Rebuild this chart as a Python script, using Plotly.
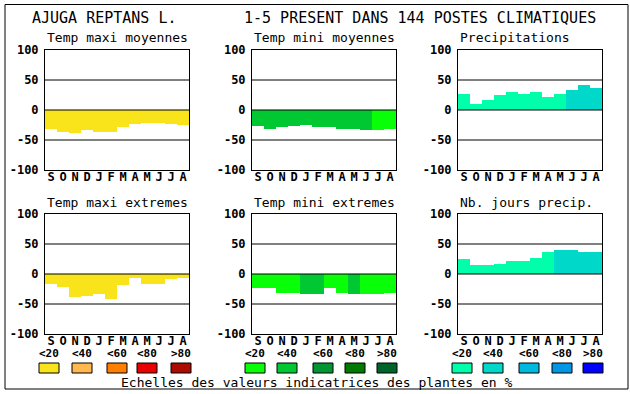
import plotly.graph_objects as go

W, H = 630, 394

months = ["S", "O", "N", "D", "J", "F", "M", "A", "M", "J", "J", "A"]

panel_titles = ["Temp maxi moyennes", "Temp mini moyennes", "Precipitations",
                "Temp maxi extremes", "Temp mini extremes", "Nb. jours precip."]

tmax_moy = [-31, -36, -38, -33, -36, -36, -28, -23, -22, -22, -23, -25]
tmin_moy = [-26, -31, -28, -26, -25, -28, -28, -31, -31, -34, -33, -31]
precip = [27, 10, 16, 25, 30, 27, 30, 22, 27, 33, 42, 37]
tmax_ext = [-16, -21, -38, -36, -34, -41, -18, -6, -16, -16, -8, -6]
tmin_ext = [-24, -24, -31, -31, -33, -33, -24, -31, -33, -33, -34, -31]
nb_jours = [25, 15, 15, 17, 21, 22, 27, 36, 40, 40, 36, 37]

# class index (0: <20, 1: <40, 2: <60, 3: <80, 4: >80)
cls_tmax_moy = [0] * 12
cls_tmin_moy = [1] * 10 + [0, 0]
cls_precip = [0] * 9 + [1] * 3
cls_tmax_ext = [0] * 12
cls_tmin_ext = [0, 0, 0, 0, 1, 1, 0, 0, 1, 0, 0, 0]
cls_nb_jours = [0] * 8 + [1] * 4

class_labels = ["<20", "<40", "<60", "<80", ">80"]
legend_title = "Echelles des valeurs indicatrices des plantes en %"
main_left = "AJUGA REPTANS L."
main_right = "1-5 PRESENT DANS 144 POSTES CLIMATIQUES"

yticks = [-100, -50, 0, 50, 100]

pal_temp_max = ["#f9e31b", "#ffb94e", "#ff7f00", "#e80000", "#ac0c00"]
pal_temp_min = ["#08ff08", "#00c832", "#009632", "#007a00", "#00642a"]
pal_prec = ["#00ffaa", "#00d9c9", "#00b9df", "#0096e6", "#0000ff"]

series = [tmax_moy, tmin_moy, precip, tmax_ext, tmin_ext, nb_jours]
classes = [cls_tmax_moy, cls_tmin_moy, cls_precip, cls_tmax_ext, cls_tmin_ext, cls_nb_jours]
palettes = [pal_temp_max, pal_temp_min, pal_prec, pal_temp_max, pal_temp_min, pal_prec]

MONO = "DejaVu Sans Mono"

# panel pixel geometry
col_x = [(45, 189), (252, 396), (458, 602)]
row_y = [(50, 170), (214, 334)]

fig = go.Figure()
layout = dict(width=W, height=H, margin=dict(l=0, r=0, t=0, b=0, pad=0, autoexpand=False),
              paper_bgcolor="white", plot_bgcolor="white", showlegend=False,
              bargap=0)
shapes = []
annotations = []

for i in range(6):
    r, c = divmod(i, 3)
    n = i + 1
    xa = "x" if n == 1 else f"x{n}"
    ya = "y" if n == 1 else f"y{n}"
    x0, x1 = col_x[c]
    y0, y1 = row_y[r]
    fig.add_trace(go.Bar(
        x=list(range(12)), y=series[i], width=1,
        marker=dict(color=[palettes[i][k] for k in classes[i]], line=dict(width=0)),
        xaxis=xa, yaxis=ya, hoverinfo="skip"))
    layout[f"xaxis{'' if n == 1 else n}"] = dict(
        domain=[x0 / W, x1 / W], anchor=ya, range=[-0.5, 11.5], automargin=False,
        tickmode="array", tickvals=list(range(12)), ticktext=months,
        tickfont=dict(family=MONO, size=12, color="black", weight="bold"),
        ticklabelstandoff=-4,
        showgrid=False, zeroline=False, showline=True, linecolor="black",
        linewidth=1, mirror=True, ticks="", ticklen=0, fixedrange=True)
    layout[f"yaxis{'' if n == 1 else n}"] = dict(
        domain=[1 - y1 / H, 1 - y0 / H], anchor=xa, range=[-100, 100], automargin=False,
        tickmode="array", tickvals=yticks, ticktext=[str(v) for v in yticks],
        tickfont=dict(family=MONO, size=12, color="black", weight="bold"),
        ticklabelstandoff=3,
        showgrid=False, zeroline=False, showline=True, linecolor="black",
        linewidth=1, mirror=True, ticks="", ticklen=0, fixedrange=True)
    for gv in (-50, 0, 50):
        shapes.append(dict(type="line", xref=f"{xa} domain", yref=ya,
                           x0=0, x1=1, y0=gv, y1=gv, layer="above",
                           line=dict(color="black", width=1)))
    annotations.append(dict(text=panel_titles[i], xref="paper", yref="paper",
                            x=x0 / W, y=1 - (y0 - 12) / H, xanchor="left",
                            yanchor="middle", showarrow=False,
                            font=dict(family=MONO, size=13, color="black")))

# main titles
annotations.append(dict(text=main_left, xref="paper", yref="paper",
                        x=30 / W, y=1 - 18 / H, xanchor="left", yanchor="middle",
                        showarrow=False, font=dict(family=MONO, size=15, color="black")))
annotations.append(dict(text=main_right, xref="paper", yref="paper",
                        x=598 / W, y=1 - 18 / H, xanchor="right", yanchor="middle",
                        showarrow=False, font=dict(family=MONO, size=15, color="black")))

# legend swatches & labels
group_centers = [[49, 82, 117, 147, 181],
                 [255, 287, 323, 355, 387],
                 [462, 493, 529, 562, 593]]
group_pals = [pal_temp_max, pal_temp_min, pal_prec]
for g in range(3):
    for k in range(5):
        cx = group_centers[g][k]
        shapes.append(dict(type="rect", xref="paper", yref="paper",
                           x0=(cx - 10) / W, x1=(cx + 10) / W,
                           y0=1 - 373 / H, y1=1 - 363 / H,
                           fillcolor=group_pals[g][k], line=dict(color="black", width=1)))
        annotations.append(dict(text=class_labels[k], xref="paper", yref="paper",
                                x=cx / W, y=1 - 353 / H, xanchor="center", yanchor="middle",
                                showarrow=False,
                                font=dict(family=MONO, size=11, color="black", weight="bold")))

annotations.append(dict(text=legend_title, xref="paper", yref="paper",
                        x=317 / W, y=1 - 382 / H, xanchor="center", yanchor="middle",
                        showarrow=False, font=dict(family=MONO, size=13, color="black")))

# outer frame
shapes.append(dict(type="rect", xref="paper", yref="paper",
                   x0=5 / W, x1=628 / W, y0=1 - 389 / H, y1=1 - 4.5 / H,
                   line=dict(color="black", width=1), fillcolor="rgba(0,0,0,0)"))

layout["shapes"] = shapes
layout["annotations"] = annotations
fig.update_layout(**layout)

post = (
    "document.documentElement.style.margin='0';"
    "document.documentElement.style.padding='0';"
    "document.documentElement.style.overflow='hidden';"
    "document.body.style.margin='0';"
    "document.body.style.padding='0';"
    "document.body.style.overflow='hidden';"
    "var d=document.getElementsByClassName('plotly-graph-div')[0];"
    "d.style.position='fixed';d.style.top='0px';d.style.left='0px';"
)
fig.write_html("out.html", config={"displayModeBar": False}, post_script=post)
